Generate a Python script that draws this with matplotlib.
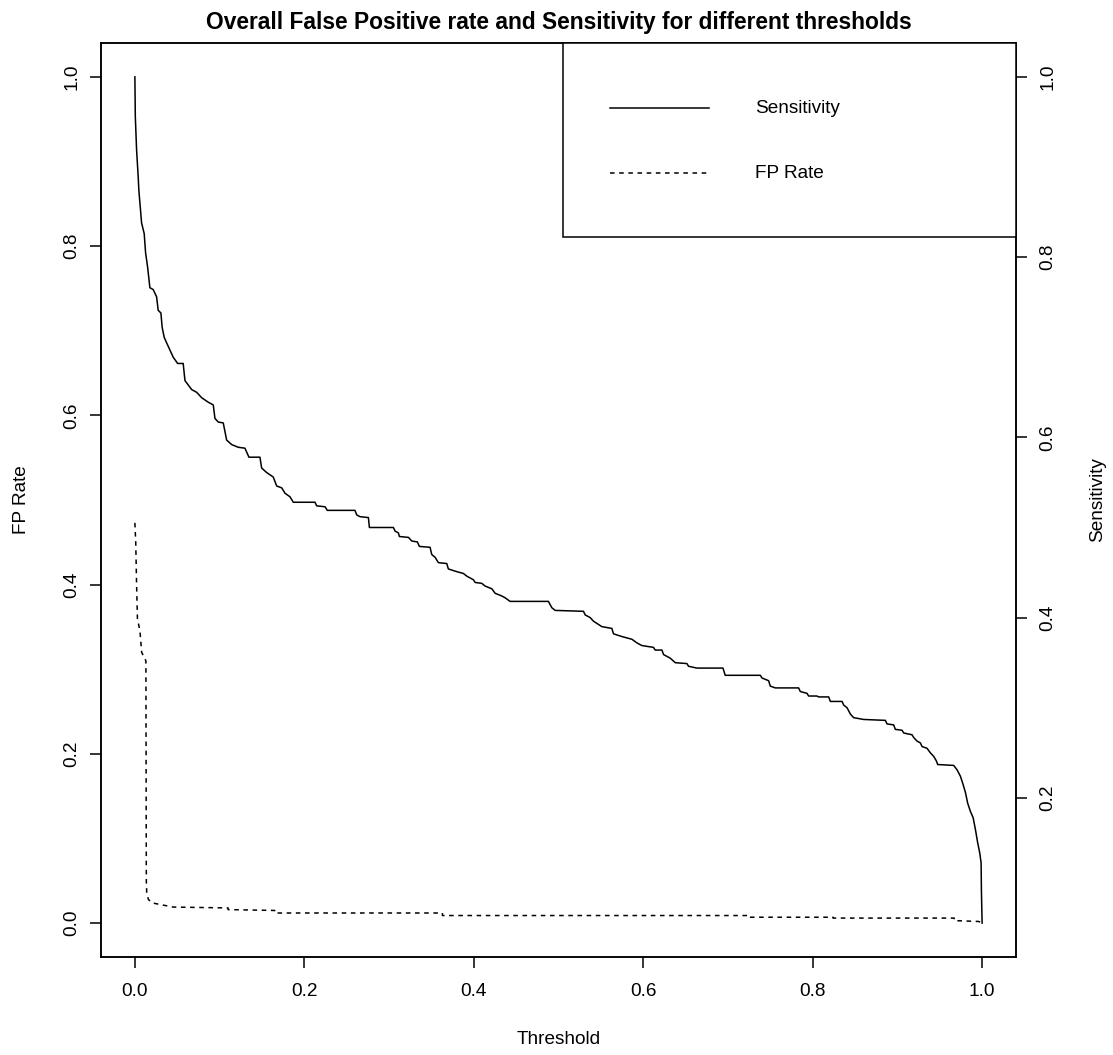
import numpy as np
import matplotlib
matplotlib.use("Agg")
from matplotlib import pyplot as plt
from matplotlib.patches import Rectangle

plt.rcParams['font.family'] = ['Liberation Sans', 'DejaVu Sans']

# false positive rate against threshold
fp_thr = [0.000, 0.001, 0.002, 0.003, 0.006, 0.008, 0.013, 0.0135, 0.014,
          0.016, 0.020, 0.030, 0.045, 0.110, 0.110, 0.165, 0.165, 0.363,
          0.363, 0.723, 0.723, 0.824, 0.824, 0.967, 0.967, 0.996, 1.000]
fp_rate = [0.473, 0.450, 0.400, 0.360, 0.345, 0.320, 0.310, 0.050, 0.035,
           0.028, 0.024, 0.022, 0.019, 0.018, 0.016, 0.015, 0.012, 0.012,
           0.009, 0.009, 0.007, 0.007, 0.006, 0.006, 0.003, 0.002, 0.000]

# sensitivity against threshold
sens_thr = [0.0000, 0.0005, 0.0020, 0.0039, 0.0047, 0.0079, 0.0110, 0.0126,
            0.0150, 0.0177, 0.0216, 0.0256, 0.0275, 0.0307, 0.0322, 0.0346,
            0.0374, 0.0413, 0.0452, 0.0504, 0.0570, 0.0591, 0.0630, 0.0670,
            0.0729, 0.0788, 0.0866, 0.0925, 0.0945, 0.0984, 0.1043, 0.1083,
            0.1142, 0.1220, 0.1299, 0.1346, 0.1476, 0.1496, 0.1555, 0.1633,
            0.1674, 0.1733, 0.1772, 0.1831, 0.1870, 0.2126, 0.2146, 0.2244,
            0.2271, 0.2598, 0.2618, 0.2657, 0.2756, 0.2768, 0.3051, 0.3071,
            0.3110, 0.3122, 0.3229, 0.3268, 0.3334, 0.3358, 0.3484, 0.3504,
            0.3543, 0.3582, 0.3681, 0.3700, 0.3799, 0.3877, 0.3918, 0.3996,
            0.4016, 0.4095, 0.4134, 0.4213, 0.4252, 0.4331, 0.4370, 0.4429,
            0.4881, 0.4921, 0.4961, 0.5295, 0.5315, 0.5374, 0.5413, 0.5512,
            0.5630, 0.5649, 0.5748, 0.5866, 0.5925, 0.5984, 0.6121, 0.6141,
            0.6221, 0.6240, 0.6319, 0.6378, 0.6516, 0.6535, 0.6634, 0.6941,
            0.6968, 0.7382, 0.7402, 0.7480, 0.7500, 0.7559, 0.7834, 0.7854,
            0.7933, 0.7952, 0.8051, 0.8070, 0.8189, 0.8209, 0.8347, 0.8366,
            0.8406, 0.8445, 0.8484, 0.8602, 0.8858, 0.8878, 0.8956, 0.8976,
            0.9055, 0.9074, 0.9173, 0.9192, 0.9232, 0.9271, 0.9291, 0.9350,
            0.9389, 0.9429, 0.9460, 0.9476, 0.9665, 0.9705, 0.9744, 0.9775,
            0.9803, 0.9830, 0.9862, 0.9894, 0.9921, 0.9948, 0.9972, 0.9988,
            0.9992, 1.0000]
sens = [1.000, 0.956, 0.919, 0.889, 0.874, 0.838, 0.826, 0.805,
        0.789, 0.766, 0.764, 0.756, 0.741, 0.738, 0.722, 0.711,
        0.705, 0.697, 0.689, 0.682, 0.682, 0.663, 0.658, 0.653,
        0.650, 0.644, 0.639, 0.636, 0.621, 0.617, 0.616, 0.597,
        0.592, 0.589, 0.588, 0.578, 0.578, 0.566, 0.561, 0.556,
        0.546, 0.544, 0.538, 0.534, 0.528, 0.528, 0.524, 0.523,
        0.519, 0.519, 0.514, 0.512, 0.511, 0.500, 0.500, 0.496,
        0.494, 0.490, 0.489, 0.485, 0.484, 0.479, 0.478, 0.470,
        0.467, 0.461, 0.460, 0.454, 0.451, 0.449, 0.446, 0.442,
        0.439, 0.438, 0.435, 0.432, 0.427, 0.424, 0.422, 0.418,
        0.418, 0.411, 0.408, 0.407, 0.403, 0.400, 0.396, 0.390,
        0.388, 0.382, 0.379, 0.376, 0.372, 0.369, 0.367, 0.364,
        0.364, 0.359, 0.355, 0.350, 0.349, 0.346, 0.344, 0.344,
        0.336, 0.336, 0.333, 0.330, 0.324, 0.322, 0.322, 0.318,
        0.316, 0.313, 0.313, 0.312, 0.312, 0.307, 0.307, 0.303,
        0.300, 0.293, 0.289, 0.287, 0.286, 0.282, 0.281, 0.276,
        0.275, 0.272, 0.270, 0.267, 0.263, 0.261, 0.257, 0.255,
        0.250, 0.246, 0.241, 0.237, 0.236, 0.231, 0.224, 0.215,
        0.206, 0.194, 0.185, 0.178, 0.165, 0.150, 0.139, 0.128,
        0.096, 0.061]

x_ticks = [0.0, 0.2, 0.4, 0.6, 0.8, 1.0]
fp_ticks = [0.0, 0.2, 0.4, 0.6, 0.8, 1.0]
sens_ticks = [0.2, 0.4, 0.6, 0.8, 1.0]
title = 'Overall False Positive rate and Sensitivity for different thresholds'

FS = 13.7
LW = 1.1


def pad_range(lo, hi):
    # base-graphics style 4% axis extension
    d = (hi - lo) * 0.04
    return lo - d, hi + d


fig = plt.figure(figsize=(11.13, 10.55), dpi=100)
ax = fig.add_axes([101 / 1113, 98 / 1055, 915 / 1113, 914 / 1055])

ax.plot(fp_thr, fp_rate, color='black', lw=LW, ls=(0, (3, 3)))
ax.set_xlim(*pad_range(0, 1))
ax.set_ylim(*pad_range(0, 1))
ax.set_xticks(x_ticks)
ax.set_xticklabels(['%.1f' % v for v in x_ticks])
ax.set_yticks(fp_ticks)
ax.set_yticklabels(['%.1f' % v for v in fp_ticks], rotation=90, va='center')
ax.tick_params(axis='x', length=8, width=LW, labelsize=FS, pad=11)
ax.tick_params(axis='y', length=8, width=LW, labelsize=FS, pad=7)
for s in ax.spines.values():
    s.set_linewidth(LW)

ax.set_xlabel('Threshold', fontsize=FS)
ax.xaxis.set_label_coords(0.5, (957 - 1040) / 914)
ax.xaxis.label.set_va('center')
ax.set_ylabel('FP Rate', fontsize=FS)
ax.yaxis.set_label_coords((22 - 101) / 915, 0.5)
ax.yaxis.label.set_va('center')

# sensitivity on its own scale, right hand axis
ax2 = ax.twinx()
ax2.plot(sens_thr, sens, color='black', lw=LW)
ax2.set_ylim(*pad_range(min(sens), max(sens)))
ax2.set_yticks(sens_ticks)
ax2.set_yticklabels(['%.1f' % v for v in sens_ticks], rotation=90, va='center')
ax2.tick_params(axis='y', length=8, width=LW, labelsize=FS, pad=9)
ax2.set_ylabel('Sensitivity', fontsize=FS, rotation=90)
ax2.yaxis.set_label_coords((1098 - 101) / 915, 0.5)
ax2.yaxis.label.set_va('center')
for s in ax2.spines.values():
    s.set_linewidth(LW)

# legend box in the top right corner
ax2.add_patch(Rectangle((0.5055, 0.8107), 1.04 - 0.5055, 1.04 - 0.8107,
                        transform=ax.transData, facecolor='white',
                        edgecolor='black', lw=LW, clip_on=False, zorder=5))
ax2.plot([0.561, 0.678], [0.9627, 0.9627], color='black', lw=LW,
         transform=ax.transData, zorder=6)
ax2.plot([0.561, 0.678], [0.8859, 0.8859], color='black', lw=LW,
         ls=(0, (3, 3)), transform=ax.transData, zorder=6)
ax2.text(0.7323, 0.9627, 'Sensitivity', fontsize=FS, va='center',
         transform=ax.transData, zorder=6)
ax2.text(0.7323, 0.8859, 'FP Rate', fontsize=FS, va='center',
         transform=ax.transData, zorder=6)

fig.text(558.5 / 1113, 1 - 22 / 1055, title, fontsize=16.4,
         fontweight='bold', ha='center', va='center')

fig.savefig('out.png', dpi=100)
